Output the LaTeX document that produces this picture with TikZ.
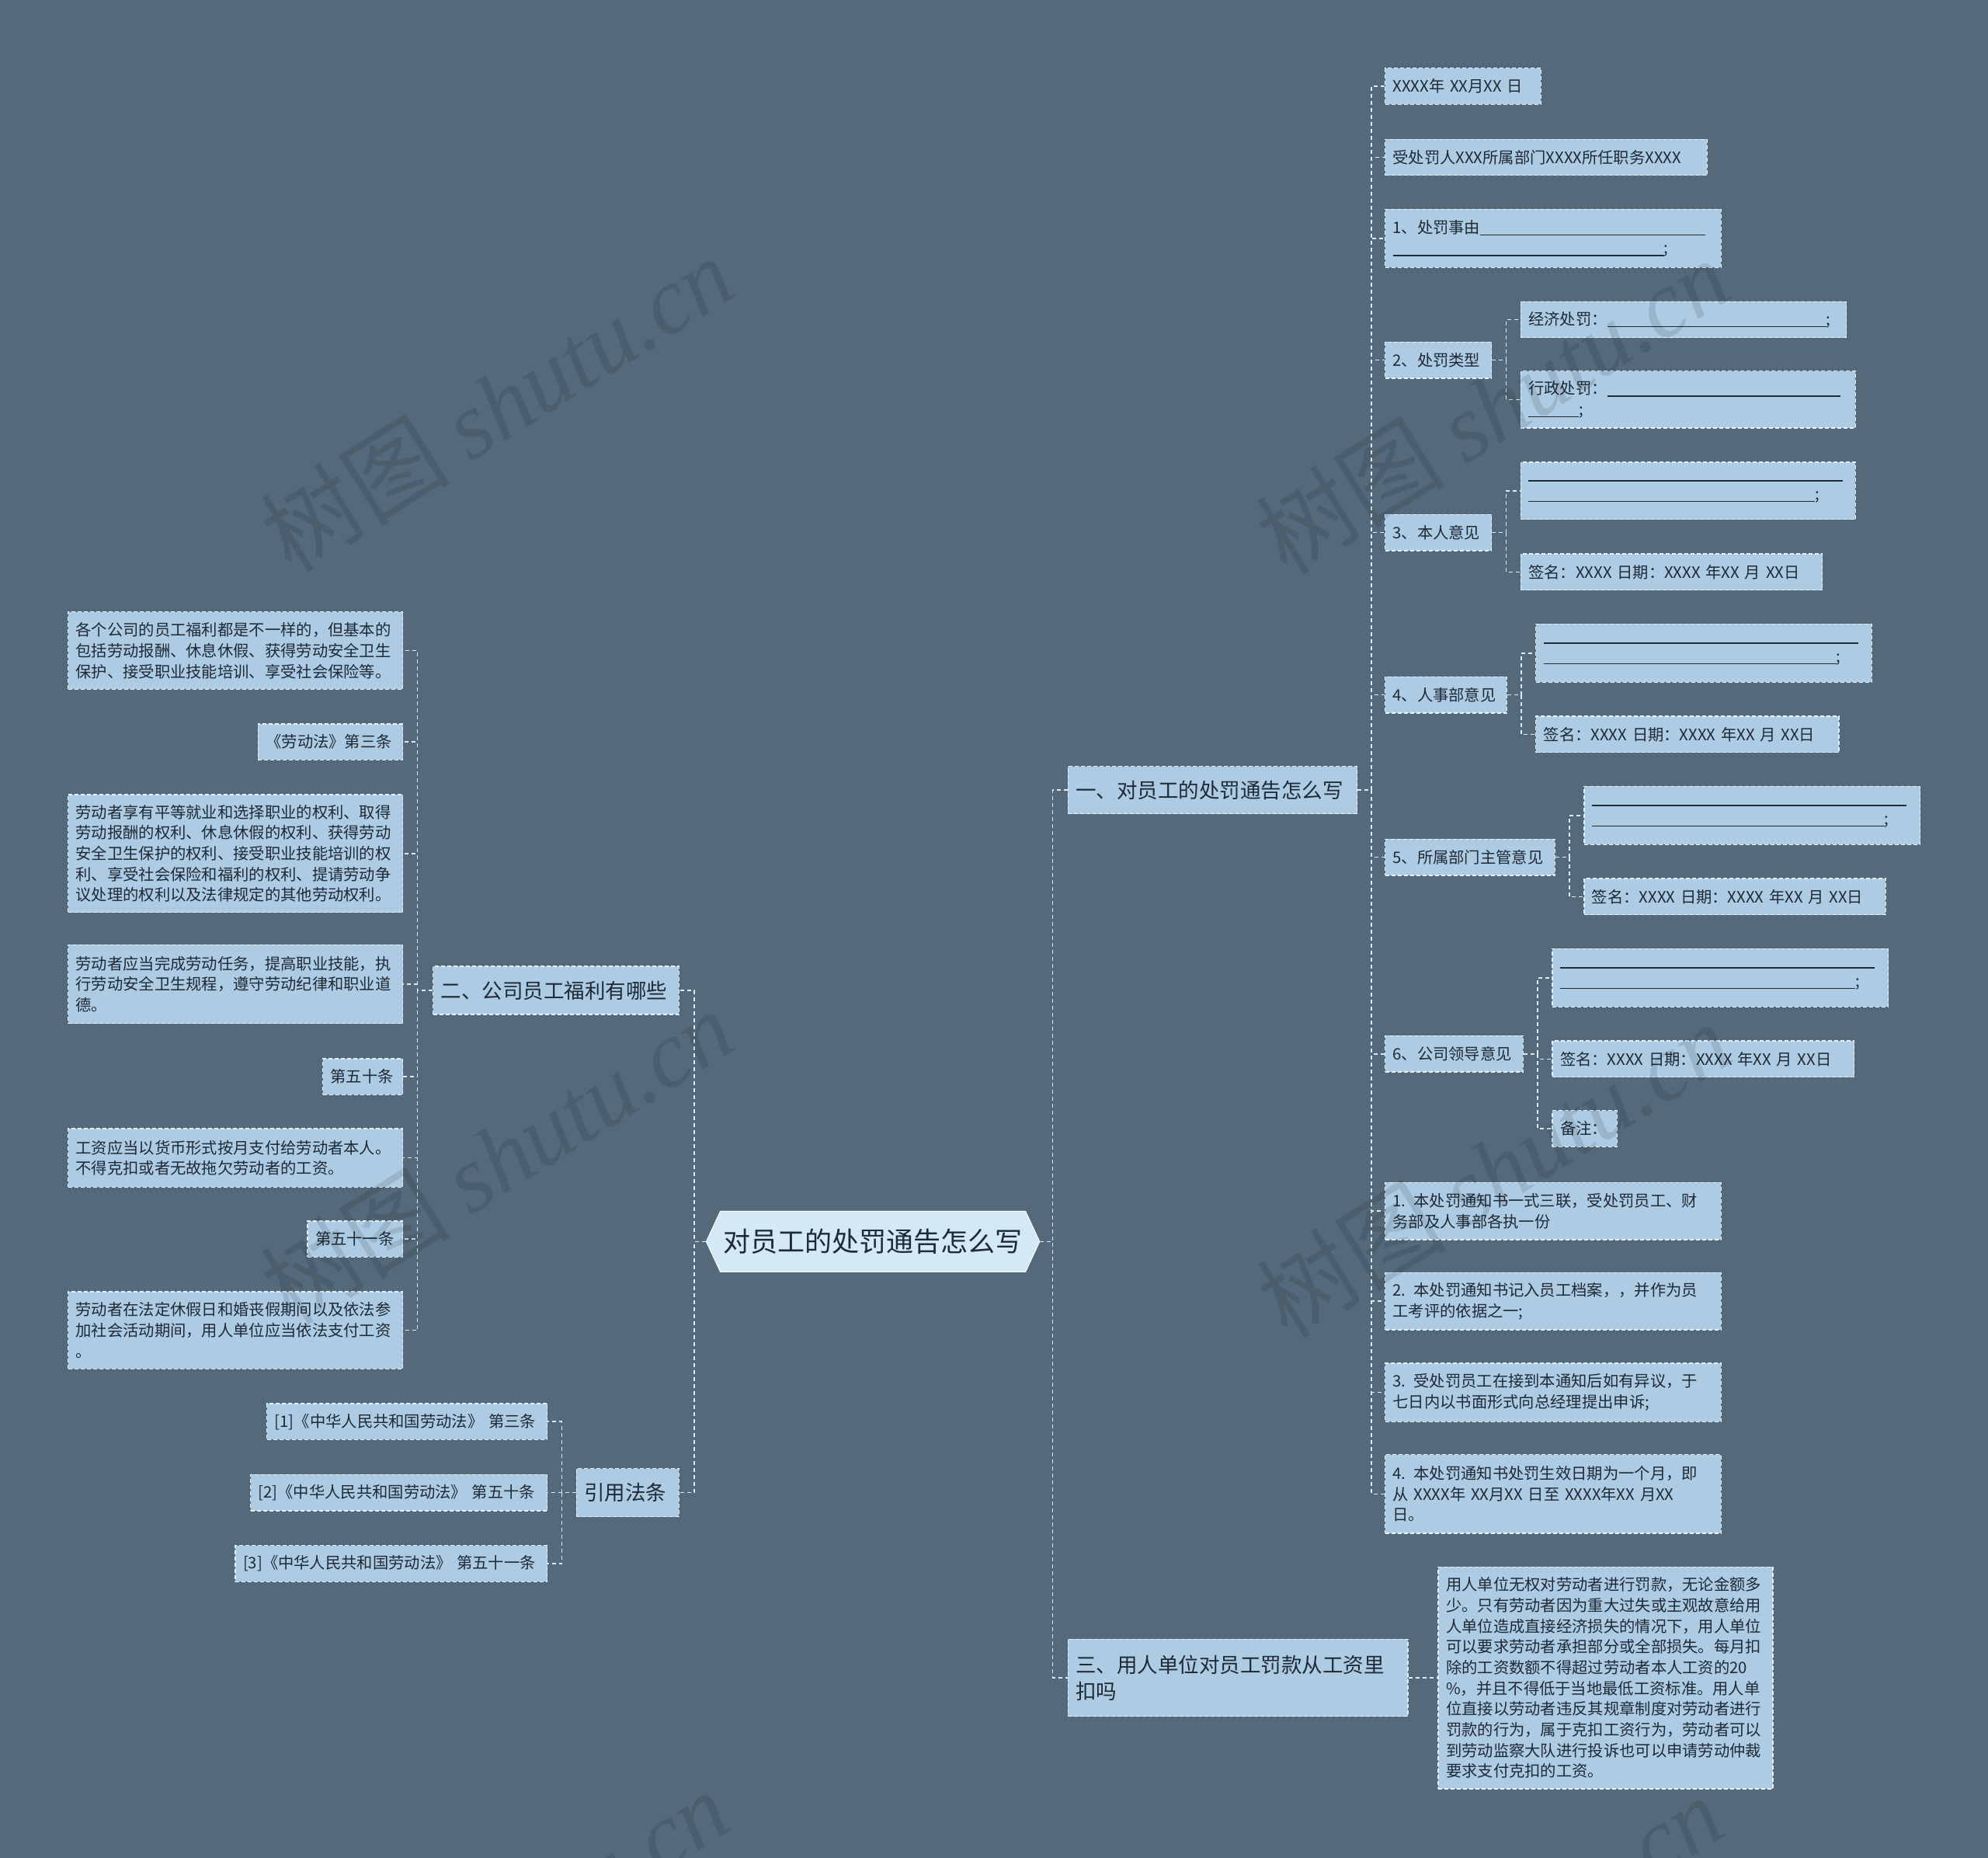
\documentclass[tikz,border=0pt]{standalone}
\usepackage{fontspec}
\setmainfont{Noto Sans CJK SC}
\newfontfamily\wmserif{Liberation Serif}
\usetikzlibrary{shapes.symbols}
\definecolor{bgc}{HTML}{546A7B}
\definecolor{nodefill}{HTML}{ADCBE3}
\definecolor{bord}{HTML}{E4F1F9}
\definecolor{connc}{HTML}{DCEBF4}
\definecolor{txt}{HTML}{1E2A35}
\definecolor{centerfill}{HTML}{D4E9F6}
\newcommand\blankrule[1]{\rule[-3pt]{#1pt}{1.4pt}}
\tikzset{
  bw/.code={\pgfmathsetmacro\bwW{#1*1.63265}\pgfmathsetmacro\bwT{#1*1.63265-20}%
    \edef\bwtmp{\noexpand\pgfkeysalso{minimum width=\bwW pt,text width=\bwT pt}}\bwtmp},
  bh/.code={\pgfmathsetmacro\bhH{#1*1.63265}%
    \edef\bhtmp{\noexpand\pgfkeysalso{minimum height=\bhH pt}}\bhtmp},
  leaf/.style={draw=bord, dash pattern=on 5pt off 3pt, line width=1.3pt, fill=nodefill,
    text=txt, font=\fontsize{20.3}{26.7}\selectfont, inner xsep=10pt, inner ysep=3pt,
    align=left, anchor=west, bh=28.5},
  lleaf/.style={leaf, anchor=east},
  lvl/.style={leaf, font=\fontsize{26.5}{34}\selectfont, bh=37.5},
  llvl/.style={lvl, anchor=east},
  centernode/.style={shape=signal, signal to=east and west, signal pointer angle=130,
    fill=centerfill, draw=white, line width=1pt, text=txt,
    font=\fontsize{35}{40}\selectfont, minimum width=429pt, minimum height=78pt, inner xsep=4pt},
  conn/.style={draw=connc, line width=1.5pt, dash pattern=on 5pt off 4pt},
  wm/.style={text=black, opacity=0.11, font=\fontsize{122}{122}\selectfont, rotate=32, inner sep=0pt}
}
\begin{document}
\begin{tikzpicture}[x=1.63265pt, y=-1.63265pt]
\useasboundingbox (0,0) rectangle (1568,1465);
\fill[bgc] (0,0) rectangle (1568,1465);

% center
\node[centernode] (c) at (688.5,979) {对员工的处罚通告怎么写};

% level 1
\node[lvl, bw=228] (r1) at (842,623) {一、对员工的处罚通告怎么写};
\node[lvl, bw=268, bh=61] (r3) at (842,1323) {三、用人单位对员工罚款从工资里\\扣吗};
\node[llvl, bw=194, bh=38] (l2) at (536,781) {二、公司员工福利有哪些};
\node[llvl, bw=81, bh=38] (l3) at (536,1177) {引用法条};

% right column
\node[leaf, bw=123] (a1) at (1092,68) {XXXX年 XX月XX 日};
\node[leaf, bw=254] (a2) at (1092,124) {受处罚人XXX所属部门XXXX所任职务XXXX};
\node[leaf, bw=265, bh=46] (a3) at (1092,188) {1、处罚事由\blankrule{290}\\\blankrule{349};};
\node[leaf, bw=84] (a4) at (1092,284) {2、处罚类型};
\node[leaf, bw=257] (a4a) at (1199,252) {经济处罚：\blankrule{282};};
\node[leaf, bw=264, bh=45] (a4b) at (1199,315) {行政处罚：\blankrule{300}\\\blankrule{65};};
\node[leaf, bw=84] (a5) at (1092,420) {3、本人意见};
\node[leaf, bw=264, bh=45] (a5a) at (1199,387) {\blankrule{405}\\\blankrule{369};};
\node[leaf, bw=238] (a5b) at (1199,451) {签名：XXXX 日期：XXXX 年XX 月 XX日};
\node[leaf, bw=96] (a6) at (1092,548) {4、人事部意见};
\node[leaf, bw=265, bh=46] (a6a) at (1211,515) {\blankrule{405}\\\blankrule{377};};
\node[leaf, bw=239] (a6b) at (1211,579) {签名：XXXX 日期：XXXX 年XX 月 XX日};
\node[leaf, bw=134] (a7) at (1092,676) {5、所属部门主管意见};
\node[leaf, bw=265, bh=46] (a7a) at (1249,643) {\blankrule{405}\\\blankrule{377};};
\node[leaf, bw=238] (a7b) at (1249,707) {签名：XXXX 日期：XXXX 年XX 月 XX日};
\node[leaf, bw=109] (a8) at (1092,831) {6、公司领导意见};
\node[leaf, bw=265, bh=46] (a8a) at (1224,771) {\blankrule{405}\\\blankrule{380};};
\node[leaf, bw=238] (a8b) at (1224,835) {签名：XXXX 日期：XXXX 年XX 月 XX日};
\node[leaf, bw=51] (a8c) at (1224,890) {备注：};
\node[leaf, bw=265, bh=45] (a9) at (1092,955) {1. 本处罚通知书一式三联，受处罚员工、财\\务部及人事部各执一份};
\node[leaf, bw=265, bh=45] (a10) at (1092,1026) {2. 本处罚通知书记入员工档案，，并作为员\\工考评的依据之一;};
\node[leaf, bw=265, bh=46] (a11) at (1092,1098) {3. 受处罚员工在接到本通知后如有异议，于\\七日内以书面形式向总经理提出申诉;};
\node[leaf, bw=265, bh=62] (a12) at (1092,1178) {4. 本处罚通知书处罚生效日期为一个月，即\\从 XXXX年 XX月XX 日至 XXXX年XX 月XX\\日。};

\node[leaf, bw=264, bh=175] (r3c) at (1134,1323) {用人单位无权对劳动者进行罚款，无论金额多\\少。只有劳动者因为重大过失或主观故意给用\\人单位造成直接经济损失的情况下，用人单位\\可以要求劳动者承担部分或全部损失。每月扣\\除的工资数额不得超过劳动者本人工资的20\\\%，并且不得低于当地最低工资标准。用人单\\位直接以劳动者违反其规章制度对劳动者进行\\罚款的行为，属于克扣工资行为，劳动者可以\\到劳动监察大队进行投诉也可以申请劳动仲裁\\要求支付克扣的工资。};

% left column
\node[lleaf, bw=264, bh=61] (b1) at (318,513) {各个公司的员工福利都是不一样的，但基本的\\包括劳动报酬、休息休假、获得劳动安全卫生\\保护、接受职业技能培训、享受社会保险等。};
\node[lleaf, bw=114] (b2) at (318,585) {《劳动法》第三条};
\node[lleaf, bw=264, bh=93] (b3) at (318,673) {劳动者享有平等就业和选择职业的权利、取得\\劳动报酬的权利、休息休假的权利、获得劳动\\安全卫生保护的权利、接受职业技能培训的权\\利、享受社会保险和福利的权利、提请劳动争\\议处理的权利以及法律规定的其他劳动权利。};
\node[lleaf, bw=264, bh=62] (b4) at (318,776) {劳动者应当完成劳动任务，提高职业技能，执\\行劳动安全卫生规程，遵守劳动纪律和职业道\\德。};
\node[lleaf, bw=63] (b5) at (318,849) {第五十条};
\node[lleaf, bw=264, bh=46] (b6) at (318,913) {工资应当以货币形式按月支付给劳动者本人。\\不得克扣或者无故拖欠劳动者的工资。};
\node[lleaf, bw=75] (b7) at (318,977) {第五十一条};
\node[lleaf, bw=264, bh=61] (b8) at (318,1049) {劳动者在法定休假日和婚丧假期间以及依法参\\加社会活动期间，用人单位应当依法支付工资\\。};

\node[lleaf, bw=221] (c1) at (432,1121) {[1]《中华人民共和国劳动法》 第三条};
\node[lleaf, bw=234] (c2) at (432,1177) {[2]《中华人民共和国劳动法》 第五十条};
\node[lleaf, bw=246] (c3) at (432,1233) {[3]《中华人民共和国劳动法》 第五十一条};

% connectors
\foreach \n in {r1,r3} \draw[conn] (c.east) -- ++(10,0) |- (\n.west);
\foreach \n in {l2,l3} \draw[conn] (c.west) -- ++(-9,0) |- (\n.east);
\foreach \n in {a1,a2,a3,a4,a5,a6,a7,a8,a9,a10,a11,a12} \draw[conn] (r1.east) -- ++(11,0) |- (\n.west);
\foreach \n in {a4a,a4b} \draw[conn] (a4.east) -- ++(11,0) |- (\n.west);
\foreach \n in {a5a,a5b} \draw[conn] (a5.east) -- ++(11,0) |- (\n.west);
\foreach \n in {a6a,a6b} \draw[conn] (a6.east) -- ++(11,0) |- (\n.west);
\foreach \n in {a7a,a7b} \draw[conn] (a7.east) -- ++(11,0) |- (\n.west);
\foreach \n in {a8a,a8b,a8c} \draw[conn] (a8.east) -- ++(11,0) |- (\n.west);
\draw[conn] (r3.east) -- (r3c.west);
\foreach \n in {b1,b2,b3,b4,b5,b6,b7,b8} \draw[conn] (l2.west) -- ++(-12,0) |- (\n.east);
\foreach \n in {c1,c2,c3} \draw[conn] (l3.west) -- ++(-11,0) |- (\n.east);

% watermarks
\begin{scope}
\clip (0,0) rectangle (1568,1465);
\node[wm] (w1) at (392,318) {树图 {\wmserif\itshape shutu.cn}};
\node[wm] (w2) at (1177,320) {树图 {\wmserif\itshape shutu.cn}};
\node[wm] (w3) at (392,912) {树图 {\wmserif\itshape shutu.cn}};
\node[wm] (w4) at (1178,922) {树图 {\wmserif\itshape shutu.cn}};
\node[wm] (w5) at (388,1528) {树图 {\wmserif\itshape shutu.cn}};
\node[wm] (w6) at (1172,1532) {树图 {\wmserif\itshape shutu.cn}};
\end{scope}
\end{tikzpicture}
\end{document}
